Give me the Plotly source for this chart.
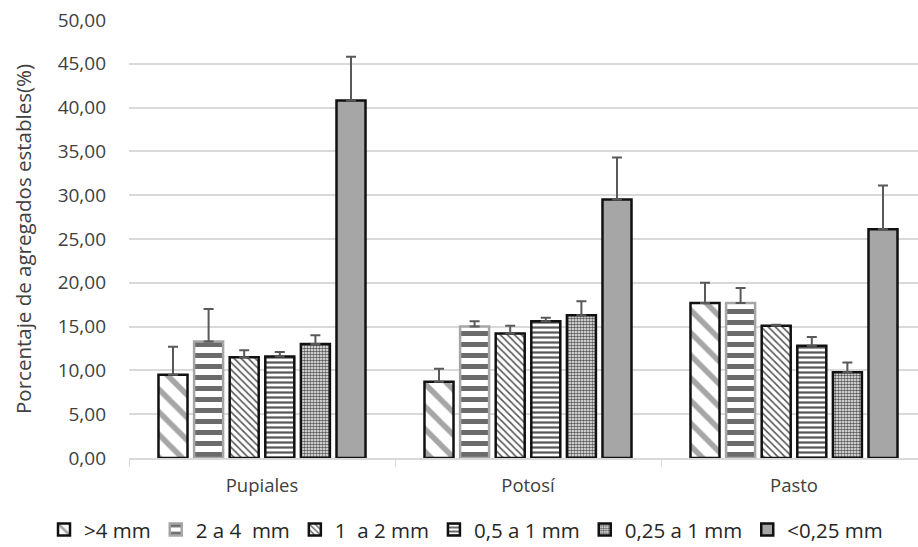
import plotly.graph_objects as go

categories = ["Pupiales", "Potosí", "Pasto"]
series_names = [">4 mm", "2 a 4  mm", "1  a 2 mm", "0,5 a 1 mm", "0,25 a 1 mm", "<0,25 mm"]
values = [
    [9.5, 8.7, 17.7],
    [13.3, 15.0, 17.7],
    [11.5, 14.2, 15.1],
    [11.6, 15.6, 12.8],
    [13.0, 16.3, 9.8],
    [40.8, 29.5, 26.1],
]
errors = [
    [3.2, 1.5, 2.3],
    [3.7, 0.6, 1.7],
    [0.8, 0.9, 0.1],
    [0.5, 0.4, 1.0],
    [1.0, 1.6, 1.1],
    [5.0, 4.8, 5.0],
]
y_ticks = [0, 5, 10, 15, 20, 25, 30, 35, 40, 45, 50]

styles = [
    dict(shape="\\", fg="#a6a6a6", size=16, sol=0.35, line="#111111", bg="white"),
    dict(shape="-", fg="#6b6b6b", size=11, sol=0.45, line="#a6a6a6", bg="white"),
    dict(shape="\\", fg="#595959", size=5, sol=0.33, line="#111111", bg="white"),
    dict(shape="-", fg="#595959", size=5, sol=0.45, line="#111111", bg="white"),
    dict(shape=".", fg="#595959", size=3, sol=0.6, line="#111111", bg="white"),
    dict(shape="", fg="#a6a6a6", size=8, sol=0.5, line="#111111", bg="#a6a6a6"),
]

fig = go.Figure()
for name, vals, errs, st in zip(series_names, values, errors, styles):
    marker = dict(
        color=st["bg"],
        line=dict(color=st["line"], width=2.5),
    )
    if st["shape"]:
        marker["pattern"] = dict(shape=st["shape"], fgcolor=st["fg"], bgcolor=st["bg"],
                                 size=st["size"], solidity=st["sol"], fillmode="replace")
    fig.add_trace(go.Bar(
        name=name, x=categories, y=vals, marker=marker,
        error_y=dict(type="data", symmetric=False, array=errs, arrayminus=[0]*len(errs),
                     color="#595959", thickness=2, width=5),
    ))

fig.update_layout(
    width=927, height=547,
    margin=dict(l=129, r=0, t=20, b=89, autoexpand=False),
    paper_bgcolor="white", plot_bgcolor="white",
    barmode="group", bargap=0.197, bargroupgap=0.185,
    font=dict(family="Open Sans, Liberation Sans, sans-serif", color="#404040", size=15),
    legend=dict(orientation="h", x=-0.1065, xanchor="left", y=-0.118, yanchor="top",
                font=dict(size=20.5, color="#262626"), itemwidth=30, traceorder="normal"),
    showlegend=True,
)
fig.update_yaxes(
    range=[0, 50], tickvals=y_ticks, tickformat=".2f",
    showgrid=True, gridcolor="#d9d9d9", gridwidth=1.5,
    zeroline=False, showline=False, ticks="", ticklabelstandoff=22,
    tickfont=dict(size=19, color="#404040"),
    title=dict(text="Porcentaje de agregados estables(%)", font=dict(size=20.5, color="#404040"), standoff=20),
)
fig.update_xaxes(
    showline=True, linecolor="#d9d9d9", linewidth=1.5,
    ticks="outside", tickson="boundaries", ticklen=7, tickcolor="#d9d9d9",
    ticklabelstandoff=10,
    tickfont=dict(size=18.5, color="#404040"),
)
fig.update_layout(separators=",.")

fig.write_html(
    "out.html",
    config={"displayModeBar": False},
    post_script="document.body.style.margin='0';document.body.style.overflow='hidden';",
)
